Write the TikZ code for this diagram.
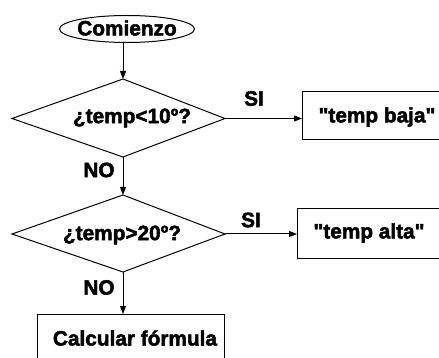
\documentclass[tikz,border=0pt]{standalone}
\usepackage{fontspec}
\setmainfont{Liberation Sans}
\newfontfamily\heavyfont[FakeBold=2.2]{Liberation Sans Bold}
\usetikzlibrary{shapes.geometric,arrows.meta}
\begin{document}
\begin{tikzpicture}[x=1pt,y=-1pt,
  line/.style={line width=1pt,draw=black},
  arr/.style={line,-{Triangle[length=8pt,width=6pt]}},
  lbl/.style={font=\heavyfont\fontsize{20.8}{24}\selectfont,inner sep=0pt},
  boxst/.style={line}]
\useasboundingbox (0,0) rectangle (439,358);
\clip (0,0) rectangle (439,358);
% start ellipse
\node[ellipse,line,minimum width=135pt,minimum height=27pt,inner sep=0pt] (start) at (127,29) {};
\node[lbl] (starttxt) at (127,28) {Comienzo};
% diamond 1
\coordinate (d1t) at (123,79);
\coordinate (d1l) at (12,118.5);
\coordinate (d1r) at (225,118.5);
\coordinate (d1b) at (123,157);
\draw[line] (d1t) -- (d1r) -- (d1b) -- (d1l) -- cycle;
\node[lbl] (q1) at (132,118) {¿temp<10º?};
% diamond 2
\coordinate (d2t) at (123,195);
\coordinate (d2l) at (12,234);
\coordinate (d2r) at (225,234);
\coordinate (d2b) at (123,272);
\draw[line] (d2t) -- (d2r) -- (d2b) -- (d2l) -- cycle;
\node[lbl] (q2) at (122,235) {¿temp>20º?};
% boxes
\draw[boxst] (302,92) rectangle (450,140);
\coordinate (b1l) at (302,118.5);
\node[lbl] (b1) at (377,117) {\symbol{34}temp baja\symbol{34}};
\draw[boxst] (297,209) rectangle (450,258);
\coordinate (b2l) at (297,234);
\node[lbl] (b2) at (369,233) {\symbol{34}temp alta\symbol{34}};
\draw[boxst] (37,314) rectangle (224,370);
\coordinate (b3t) at (123,314);
\node[lbl] (b3) at (135,338) {Calcular fórmula};
% connectors
\draw[arr] (d1t |- start.south) -- (d1t);
\draw[arr] (d1r) -- (b1l);
\draw[arr] (d1b) -- (d2t);
\draw[arr] (d2r) -- (b2l);
\draw[arr] (d2b) -- (b3t);
% labels
\node[lbl] (si1) at (254,98.5) {SI};
\node[lbl] (si2) at (251,220) {SI};
\node[lbl] (no1) at (99,170) {NO};
\node[lbl] (no2) at (99,287.5) {NO};
\end{tikzpicture}
\end{document}
